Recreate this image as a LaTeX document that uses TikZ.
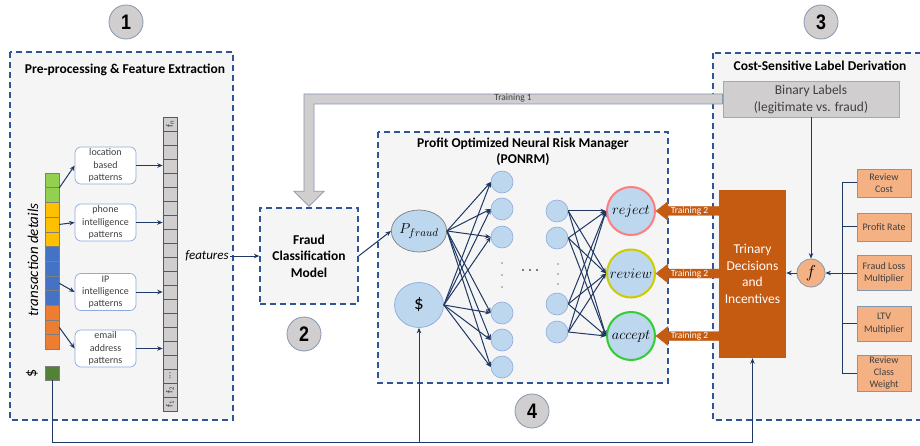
\documentclass[tikz,border=0pt]{standalone}
\usepackage{fontspec}
\setmainfont{Carlito}
\newfontfamily\numfont{Liberation Sans}
\usetikzlibrary{arrows.meta,shapes.geometric,calc}
\definecolor{dashblue}{HTML}{2F5597}
\definecolor{navy}{HTML}{1F3864}
\definecolor{panelbg}{HTML}{F5F5F5}
\definecolor{featgray}{HTML}{D0CECE}
\definecolor{fcellline}{HTML}{595959}
\definecolor{cellline}{HTML}{7F7F7F}
\definecolor{pattline}{HTML}{8FAADC}
\definecolor{darktext}{HTML}{404040}
\definecolor{nodeblue}{HTML}{BDD7EE}
\definecolor{neuronline}{HTML}{8FAADC}
\definecolor{pline}{HTML}{7F7F7F}
\definecolor{rust}{HTML}{C55A11}
\definecolor{peach}{HTML}{F4B183}
\definecolor{paramline}{HTML}{8497B0}
\definecolor{numgray}{HTML}{D0CECE}
\definecolor{numline}{HTML}{8497B0}
\definecolor{rejc}{HTML}{FF7C80}
\definecolor{revc}{HTML}{CCCC00}
\definecolor{accc}{HTML}{33CC33}
\definecolor{tgreen}{HTML}{92D050}
\definecolor{tyellow}{HTML}{FFC000}
\definecolor{tblue}{HTML}{4472C4}
\definecolor{torange}{HTML}{ED7D31}
\definecolor{dgreen}{HTML}{538135}
\begin{document}
\begin{tikzpicture}[x=1pt,y=-1pt,
 panel/.style={draw=dashblue, fill=panelbg, line width=1.3pt, dash pattern=on 6pt off 4pt},
 ptitle/.style={font=\bfseries\fontsize{13.5}{16}\selectfont, align=center, inner sep=0pt},
 conn/.style={draw=navy, line width=1pt},
 arr/.style={conn, -{Stealth[length=5.5pt,width=4.5pt]}},
 tcell/.style={draw=cellline, line width=0.5pt, minimum width=14pt, minimum height=14.7pt, inner sep=0pt},
 fcell/.style={draw=fcellline, fill=featgray, line width=0.6pt, minimum width=14pt, minimum height=14pt, inner sep=0pt},
 flabel/.style={rotate=90, font=\fontsize{9.5}{9.5}\selectfont, inner sep=0pt, text=darktext},
 pattbox/.style={draw=pattline, fill=white, rounded corners=6pt, minimum width=61pt, minimum height=37pt, align=center, inner sep=0.5pt, text=darktext, font=\fontsize{10}{12.3}\selectfont, line width=0.7pt},
 neuron/.style={circle, draw=neuronline, fill=nodeblue, minimum size=22pt, inner sep=0pt, line width=0.6pt},
 outnode/.style={circle, fill=nodeblue, minimum size=48pt, inner sep=0pt, line width=2pt, font=\fontsize{14}{14}\selectfont},
 param/.style={draw=paramline, fill=peach, minimum width=54pt, align=center, inner sep=0.5pt, text=darktext, font=\fontsize{10}{12.2}\selectfont, line width=0.8pt},
 numc/.style={ellipse, draw=numline, fill=numgray, minimum width=34pt, minimum height=34pt, inner sep=0pt, line width=0.8pt, font=\numfont\bfseries\fontsize{21}{21}\selectfont},
 t2text/.style={text=white, font=\fontsize{9.5}{10}\selectfont, inner sep=0pt},
 blockarr/.style={fill=rust, draw=rust, line width=0.4pt},
]
\useasboundingbox (0,0) rectangle (920,446);
\fill[white] (0,0) rectangle (920,446);

% panels
\draw[panel] (10,52) rectangle (233,420);
\draw[panel] (378,132) rectangle (668,383);
\draw[panel] (713,53) rectangle (940,420);

% numbered circles
\node[numc] (n1) at (126,22) {\scalebox{0.85}[1]{1}};
\node[numc] (n3) at (821,22) {\scalebox{0.85}[1]{3}};
\node[numc] (n2) at (304,334) {\scalebox{0.85}[1]{2}};
\node[numc] (n4) at (532,411) {\scalebox{0.85}[1]{4}};

% titles
\node[ptitle] (tleft) at (125,70) {Pre-processing \& Feature Extraction};
\node[ptitle] (tright) at (820,66) {Cost-Sensitive Label Derivation};
\node[ptitle] (tmid) at (523,152) {Profit Optimized Neural Risk Manager\\(PONRM)};

% transaction details column
\foreach \c [count=\i from 0] in {tgreen,tgreen,tyellow,tyellow,tyellow,tblue,tblue,tblue,tblue,torange,torange,torange}
  \node[tcell, fill=\c] (tc\i) at (52,180.35+14.7*\i) {};
\node[tcell, fill=dgreen, minimum height=14pt] (dsq) at (52,373) {};
\node[rotate=90, font=\fontsize{16}{16}\selectfont, inner sep=0pt] (dlab) at (32,373) {\$};
\node[rotate=90, font=\itshape\fontsize{15}{15}\selectfont, inner sep=0pt] (tdl) at (33,260) {transaction details};

% pattern boxes
\node[pattbox] (ploc) at (105.5,165.5) {location\\based\\patterns};
\node[pattbox] (pph) at (105.5,222.5) {phone\\intelligence\\patterns};
\node[pattbox] (pip) at (105.5,292) {IP\\intelligence\\patterns};
\node[pattbox] (pem) at (105.5,348.5) {email\\address\\patterns};

\draw[arr] (tc0.south east) -- (ploc.west);
\draw[arr] (tc3.east) -- (pph.west);
\draw[arr] (tc7.east) -- (pip.west);
\draw[arr] (tc10.east) -- (pem.west);

% feature column
\foreach \i in {0,...,20}
  \node[fcell] (fc\i) at (170,124+14*\i) {};
\node[flabel] (lfn) at (fc0) {f\textsubscript{n}};
\node[flabel] (ldots) at (fc18) {...};
\node[flabel] (lf2) at (fc19) {f\textsubscript{2}};
\node[flabel] (lf1) at (fc20) {f\textsubscript{1}};

\draw[arr] (ploc.east) -- (ploc.east -| fc0.west);
\draw[arr] (pph.east) -- (pph.east -| fc0.west);
\draw[arr] (pip.east) -- (pip.east -| fc0.west);
\draw[arr] (pem.east) -- (pem.east -| fc0.west);

\node[font=\itshape\fontsize{13}{13}\selectfont, inner sep=1pt] (feat) at (207,256) {features};

% fraud classification model
\node[draw=dashblue, fill=panelbg, line width=1.3pt, dash pattern=on 6pt off 4pt, minimum width=98pt, minimum height=96pt, align=center, font=\bfseries\fontsize{13.5}{16.5}\selectfont] (fcm) at (309,256) {Fraud\\Classification\\Model};
\draw[arr] (feat.east) -- (fcm.west);

% binary labels
\node[draw=pattline, fill=featgray, minimum width=176pt, minimum height=36pt, align=center, text=darktext, font=\fontsize{13.5}{17}\selectfont, line width=0.8pt] (bin) at (811,99) {Binary Labels\\(legitimate vs. fraud)};

% training 1 block arrow
\draw[fill=featgray, draw=paramline, line width=0.8pt]
  ($(bin.west)+(0,-5)$) -- ($(fcm.north |- bin.west)+(-5,-5)$) -- ($(fcm.north)+(-5,-16)$)
  -- ($(fcm.north)+(-15,-16)$) -- ($(fcm.north)+(0,-1)$) -- ($(fcm.north)+(15,-16)$)
  -- ($(fcm.north)+(5,-16)$) -- ($(fcm.north |- bin.west)+(5,5)$) -- ($(bin.west)+(0,5)$) -- cycle;
\node[font=\fontsize{9.5}{10}\selectfont, text=darktext, inner sep=0pt] (t1lab) at (513,98.5) {Training 1};

% PONRM network
\node[ellipse, draw=pline, fill=nodeblue, minimum width=49pt, minimum height=42pt, inner sep=0pt, line width=0.7pt, font=\fontsize{15}{15}\selectfont] (pf) at (419,231) {$P_{fraud}$};
\node[ellipse, draw=neuronline, fill=nodeblue, minimum width=49pt, minimum height=45pt, inner sep=0pt, line width=0.7pt, font=\fontsize{19}{19}\selectfont] (dc) at (419,305) {\$};

\foreach \y [count=\i] in {182,209,237,313,340,367}
  \node[neuron] (h\i) at (502,\y) {};
\foreach \y [count=\i] in {211,238,304,332}
  \node[neuron] (g\i) at (557,\y) {};

\node[outnode, draw=rejc] (rej) at (631,211) {$reject$};
\node[outnode, draw=revc] (rev) at (631,273.5) {$review$};
\node[outnode, draw=accc] (acc) at (631,336) {$accept$};

\draw[arr] (fcm.east) -- (pf.west);
\foreach \i in {1,...,6} {
  \draw[arr] (pf.east) -- (h\i.west);
  \draw[arr] (dc.east) -- (h\i.west);
}
\foreach \i in {1,...,4} {
  \foreach \o in {rej,rev,acc}
    \draw[arr] (g\i.east) -- (\o.west);
}

% ellipsis dots
\foreach \y in {263,275,287} \fill[black] (502,\y) circle (0.7);
\foreach \y in {264,274,284} \fill[black] (558,\y) circle (0.7);
\foreach \x in {523,530,537} \fill[black] (\x,270) circle (0.8);

% trinary decisions box
\node[fill=rust, minimum width=67pt, minimum height=168pt, align=center, text=white, font=\fontsize{13.5}{16.5}\selectfont, inner sep=0pt] (trin) at (752.5,274) {Trinary\\Decisions\\and\\Incentives};

% training 2 arrows
\foreach \o in {rej,rev,acc} {
  \draw[blockarr] ($(\o.east -| trin.west)+(0,-4.5)$) -- ($(\o.east)+(12,-4.5)$) -- ($(\o.east)+(12,-9.5)$)
    -- (\o.east) -- ($(\o.east)+(12,9.5)$) -- ($(\o.east)+(12,4.5)$) -- ($(\o.east -| trin.west)+(0,4.5)$) -- cycle;
  \node[t2text] (t2\o) at ($(\o.east)+(33.5,0.5)$) {Training 2};
}

% f node and parameters
\node[circle, draw=paramline, fill=peach, minimum size=28pt, inner sep=0pt, line width=0.8pt, font=\fontsize{16}{16}\selectfont] (fn) at (811,273) {$f$};
\node[param, minimum height=28pt] (rc) at (884,183) {Review\\Cost};
\node[param, minimum height=28pt] (pr) at (884,227) {Profit Rate};
\node[param, minimum height=35pt] (fl) at (884,273) {Fraud Loss\\Multiplier};
\node[param, minimum height=35pt] (ltv) at (884,323.5) {LTV\\Multiplier};
\node[param, minimum height=36pt] (rcw) at (884,373) {Review\\Class\\Weight};

\coordinate (brk) at (842,0);
\draw[conn] (rc.west) -- (rc.west -| brk) -- (rcw.west -| brk) -- (rcw.west);
\draw[conn] (pr.west) -- (pr.west -| brk);
\draw[conn] (ltv.west) -- (ltv.west -| brk);
\draw[arr] (fl.west) -- (fn.east);
\draw[arr] (bin.south) -- (fn.north);
\draw[arr] (fn.west) -- (trin.east |- fn.west);

% bottom bus
\coordinate (bus) at (0,442);
\draw[arr] (dsq.south) -- (dsq.south |- bus) -| (trin.south);
\draw[arr] (dc.south |- bus) -- (dc.south);
\end{tikzpicture}
\end{document}
